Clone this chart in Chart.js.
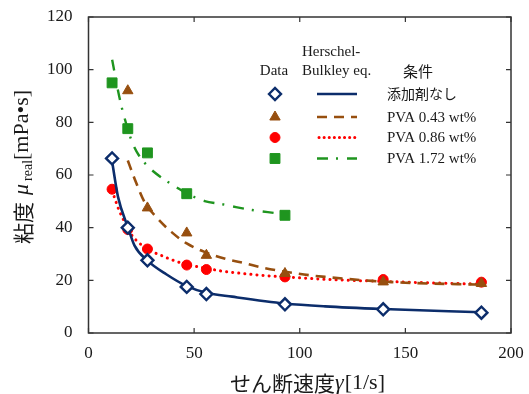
<!DOCTYPE html>
<html>
<head>
<meta charset="utf-8">
<script src="https://cdn.jsdelivr.net/npm/chart.js@4.4.1/dist/chart.umd.min.js"></script>
<style>
  html, body { margin: 0; padding: 0; background: #fff; }
</style>
</head>
<body>
<canvas id="chart" width="529" height="394"></canvas>
<script>
/* Data: shear rate and measured viscosity */
const gamma   = [11.16, 18.6, 27.9, 46.5, 55.8, 93, 139.5, 186];
const muNone  = [66.3, 40.0, 27.6, 17.5, 14.8, 10.9, 9.0, 7.7];
const mu043   = [null, 92.0, 47.5, 38.0, 29.5, 22.6, 19.4, 18.8];
const mu086   = [54.6, 39.3, 31.9, 25.8, 24.1, 21.3, 20.3, 19.3];
const mu172   = [95.0, 77.6, 68.4, 52.9, null, 44.7, null, null];

/* Herschel-Bulkley curves */
const fitNoneX = [11.2, 14, 18.6, 21.8, 27.9, 36.8, 46.5, 55.8, 68, 93, 112, 139.5, 186];
const fitNoneY = [65, 51.6, 40.3, 33.2, 27.5, 22.3, 17.8, 15.3, 13.8, 11.2, 10.1, 9.1, 7.9];
const fit043X  = [18.6, 21.8, 26.6, 32.1, 39.2, 46.5, 54.9, 64.3, 74.5, 83.2, 102, 112, 134, 150, 178, 186];
const fit043Y  = [65.5, 58.6, 49.6, 44.0, 38.4, 34.0, 30.8, 28.3, 26.4, 24.7, 22.2, 21.3, 19.8, 19.1, 18.5, 18.4];
const fit086X  = [11.2, 12.7, 14.3, 15.9, 18.6, 20.7, 23.4, 27.9, 32.1, 35.2, 38.8, 46.5, 55.8, 62.4, 72.9, 83.5, 97.3, 111.5, 139.5, 173.6, 186];
const fit086Y  = [54.0, 50.5, 46.9, 44.1, 39.8, 36.9, 34.6, 31.8, 30.2, 29.2, 28.0, 26.0, 24.6, 23.6, 22.6, 21.8, 21.1, 20.4, 19.6, 18.8, 18.6];
const fit172X  = [11.2, 14.5, 16.2, 20.6, 23.9, 29, 34.9, 41.5, 46.5, 55, 63.2, 69.8, 77.4, 84.9, 93];
const fit172Y  = [103.8, 90.0, 84.2, 72.6, 67.4, 62.6, 58.8, 55.4, 53.0, 50.1, 48.9, 47.8, 46.7, 45.9, 45.0];

const xTicks = [0, 50, 100, 150, 200];
const yTicks = [0, 20, 40, 60, 80, 100, 120];

const conditions = ['添加剤なし', 'PVA 0.43 wt%', 'PVA 0.86 wt%', 'PVA 1.72 wt%'];

const NAVY = '#0c2d6b', BROWN = '#974f0f', RED = '#ff0000', GREEN = '#1f951f';
const SERIF = "'Liberation Serif', 'Times New Roman', serif";
const CJK = "'Noto Sans CJK JP', sans-serif";

function pts(xs, ys) {
  return xs.map((x, i) => ({ x: x, y: ys[i] })).filter(p => p.y !== null);
}

function fitSet(xs, ys, color, dash, width, cap, order) {
  return {
    data: pts(xs, ys), showLine: true, pointRadius: 0,
    borderColor: color, borderWidth: width, borderDash: dash,
    borderCapStyle: cap, cubicInterpolationMode: 'monotone', order: order
  };
}

function markSet(ys, style, radius, fill, border, bw, order) {
  return {
    data: pts(gamma, ys), showLine: false, pointStyle: style, pointRadius: radius,
    pointBackgroundColor: fill, pointBorderColor: border, pointBorderWidth: bw, order: order
  };
}

const lineStyles = [
  { color: NAVY,  dash: [],           width: 2.6, cap: 'butt' },
  { color: BROWN, dash: [10, 7],      width: 2.6, cap: 'butt' },
  { color: RED,   dash: [0.1, 6],     width: 3,   cap: 'round' },
  { color: GREEN, dash: [11, 8, 2, 9], width: 2.4, cap: 'butt' }
];

const datasets = [
  markSet(muNone, 'rectRot', 6, '#fff', NAVY, 2.4, 0),
  fitSet(fitNoneX, fitNoneY, NAVY, [], 2.6, 'butt', 1),
  markSet(mu043, 'triangle', 6, BROWN, BROWN, 1, 2),
  fitSet(fit043X, fit043Y, BROWN, [10, 7], 2.6, 'butt', 3),
  markSet(mu086, 'circle', 5, RED, RED, 1, 4),
  fitSet(fit086X, fit086Y, RED, [0.1, 6], 3, 'round', 5),
  markSet(mu172, 'rect', 7, GREEN, GREEN, 1, 6),
  fitSet(fit172X, fit172Y, GREEN, [11, 8, 2, 9], 2.4, 'butt', 7)
];

/* Frame, inward ticks, axis titles and the table legend */
const decor = {
  id: 'decor',
  beforeDatasetsDraw(chart) {
    const { ctx, chartArea: a, scales: { x, y } } = chart;
    ctx.save();
    ctx.strokeStyle = '#333';
    ctx.lineWidth = 1.5;
    ctx.strokeRect(a.left, a.top, a.width, a.height);
    ctx.lineWidth = 1.2;
    ctx.beginPath();
    xTicks.forEach(v => {
      const px = x.getPixelForValue(v);
      ctx.moveTo(px, a.bottom); ctx.lineTo(px, a.bottom - 5);
      ctx.moveTo(px, a.top); ctx.lineTo(px, a.top + 5);
    });
    yTicks.forEach(v => {
      const py = y.getPixelForValue(v);
      ctx.moveTo(a.left, py); ctx.lineTo(a.left + 5, py);
      ctx.moveTo(a.right, py); ctx.lineTo(a.right - 5, py);
    });
    ctx.stroke();
    ctx.restore();
  },
  afterDraw(chart) {
    const ctx = chart.ctx;
    ctx.save();
    ctx.fillStyle = '#1a1a1a';
    ctx.textBaseline = 'middle';

    // x title
    ctx.textAlign = 'left';
    ctx.font = '21px ' + CJK;
    let s = 'せん断速度';
    ctx.fillText(s, 230, 383);
    let w = ctx.measureText(s).width;
    ctx.font = 'italic 22px ' + SERIF;
    ctx.fillText('γ', 230 + w, 383);
    w += ctx.measureText('γ').width + 1;
    ctx.font = '22px ' + SERIF;
    ctx.fillText('[1/s]', 230 + w, 383);

    // y title (rotated)
    ctx.save();
    ctx.translate(23, 244);
    ctx.rotate(-Math.PI / 2);
    let cx = 0;
    ctx.font = '21px ' + CJK;
    ctx.fillText('粘度', cx, 0);
    cx += ctx.measureText('粘度').width + 7;
    ctx.font = 'italic 22px ' + SERIF;
    ctx.fillText('μ', cx, -1);
    cx += ctx.measureText('μ').width + 3;
    ctx.font = '14px ' + SERIF;
    ctx.fillText('real', cx, 5);
    cx += ctx.measureText('real').width;
    ctx.font = '22px ' + SERIF;
    ctx.fillText('[mPa•s]', cx, -1);
    ctx.restore();

    // legend headers
    ctx.font = '15px ' + SERIF;
    ctx.textAlign = 'center';
    ctx.fillText('Data', 274, 71);
    ctx.textAlign = 'left';
    ctx.fillText('Herschel-', 302, 52);
    ctx.fillText('Bulkley eq.', 302, 71);
    ctx.font = '15px ' + CJK;
    ctx.textAlign = 'center';
    ctx.fillText('条件', 418, 71);

    // legend rows
    const rowY = [94, 117, 137.5, 158.5];
    const marks = [datasets[0], datasets[2], datasets[4], datasets[6]];
    rowY.forEach((ry, i) => {
      const m = marks[i];
      ctx.fillStyle = m.pointBackgroundColor;
      ctx.strokeStyle = m.pointBorderColor;
      ctx.lineWidth = m.pointBorderWidth;
      Chart.helpers.drawPoint(ctx, { pointStyle: m.pointStyle, radius: m.pointRadius, borderWidth: m.pointBorderWidth, rotation: 0 }, 275, ry);
      const ls = lineStyles[i];
      ctx.strokeStyle = ls.color;
      ctx.lineWidth = ls.width;
      ctx.lineCap = ls.cap;
      ctx.setLineDash(i === 2 ? [0.1, 5] : ls.dash);
      ctx.beginPath();
      ctx.moveTo(i === 2 ? 319 : 317, ry);
      ctx.lineTo(357, ry);
      ctx.stroke();
      ctx.setLineDash([]);
      ctx.lineCap = 'butt';
      ctx.fillStyle = '#1a1a1a';
      ctx.textAlign = 'left';
      ctx.font = i === 0 ? '14px ' + CJK : '15px ' + SERIF;
      ctx.fillText(conditions[i], 387, ry + (i === 0 ? 0 : 1));
    });
    ctx.restore();
  }
};

new Chart(document.getElementById('chart'), {
  type: 'scatter',
  data: { datasets: datasets },
  options: {
    responsive: false,
    animation: false,
    layout: { padding: { left: 0, top: 17, right: 18, bottom: 0 } },
    plugins: { legend: { display: false }, tooltip: { enabled: false } },
    scales: {
      x: {
        min: 0, max: 200,
        ticks: { stepSize: 50, padding: 10, color: '#1a1a1a', font: { family: SERIF, size: 17 } },
        grid: { display: false, drawTicks: false },
        border: { display: false },
        afterFit(s) { s.height = 61; s.paddingLeft = 0; s.paddingRight = 0; }
      },
      y: {
        min: 0, max: 120,
        ticks: { stepSize: 20, padding: 16, color: '#1a1a1a', font: { family: SERIF, size: 17 } },
        grid: { display: false, drawTicks: false },
        border: { display: false },
        afterFit(s) { s.width = 88.5; s.paddingTop = 0; s.paddingBottom = 0; }
      }
    }
  },
  plugins: [decor]
});
</script>
</body>
</html>
